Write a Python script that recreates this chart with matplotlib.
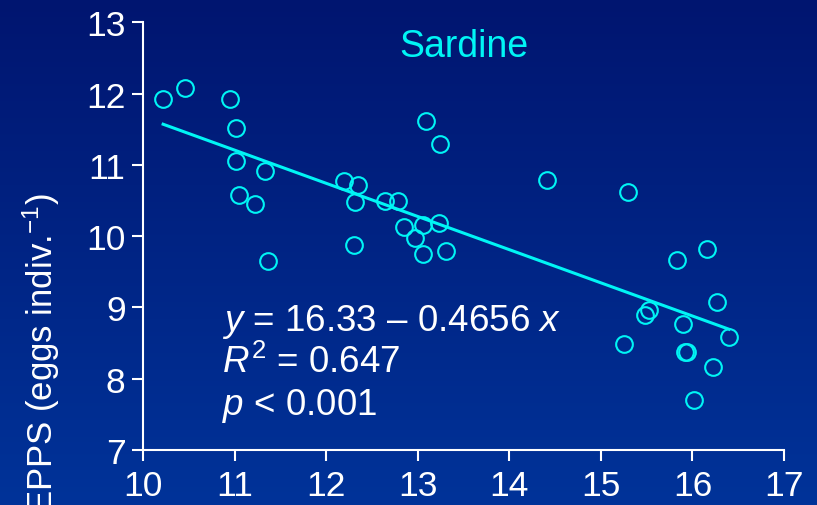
import numpy as np
import matplotlib
matplotlib.use('Agg')
import matplotlib.pyplot as plt
from matplotlib.colors import LinearSegmentedColormap

plt.rcParams['font.family'] = ['Liberation Sans', 'DejaVu Sans']
plt.rcParams['mathtext.fontset'] = 'custom'
plt.rcParams['mathtext.rm'] = 'Liberation Sans'
plt.rcParams['mathtext.it'] = 'Liberation Sans:italic'

# données (x = température ?, y = EPPS)
temp = [10.22, 10.46, 10.95, 11.02, 11.02, 11.33, 11.05, 11.22, 11.37,
        12.20, 12.35, 12.31, 12.30, 12.64, 12.79, 13.09, 13.24, 12.85,
        12.97, 13.06, 13.23, 13.06, 13.31,
        14.41, 15.30, 15.83, 16.16, 16.27, 15.53, 15.48, 15.90, 16.40,
        15.25, 15.92, 15.94, 16.23, 16.02]
epps = [11.93, 12.08, 11.92, 11.52, 11.06, 10.92, 10.58, 10.45, 9.65,
        10.78, 10.72, 10.48, 9.88, 10.50, 10.50, 11.62, 11.30, 10.13,
        9.98, 10.16, 10.18, 9.75, 9.79,
        10.79, 10.62, 9.66, 9.82, 9.07, 8.97, 8.90, 8.77, 8.58,
        8.49, 8.37, 8.37, 8.16, 7.70]
intercept = 16.33
slope = -0.4656

cyan = '#00f5f5'

fig = plt.figure(figsize=(8.17, 5.06), dpi=100)

# fond dégradé
bg = fig.add_axes([0, 0, 1, 1], zorder=-1)
cmap = LinearSegmentedColormap.from_list('bg', ['#001570', '#003399'])
bg.imshow(np.linspace(0, 1, 256).reshape(-1, 1), cmap=cmap, aspect='auto',
          extent=[0, 1, 0, 1])
bg.axis('off')

ax = fig.add_axes([0.175, 0.1087, 0.7846, 0.845])
ax.set_facecolor('none')

ax.plot(temp, epps, 'o', ms=12, mfc='none', mec=cyan, mew=1.5, clip_on=False)
xl = np.array([min(temp), max(temp)])
ax.plot(xl, intercept + slope * xl, color=cyan, lw=2.2)

ax.set_xlim(10, 17)
ax.set_ylim(7, 13)
ax.set_xticks(range(10, 18))
ax.set_yticks(range(7, 14))

for s in ['top', 'right']:
    ax.spines[s].set_visible(False)
for s in ['left', 'bottom']:
    ax.spines[s].set_color('white')
    ax.spines[s].set_linewidth(1.5)
ax.tick_params(colors='white', labelsize=25.5, length=8, width=1.5)
ax.tick_params(axis='y', pad=4.5)
ax.tick_params(axis='x', pad=6)

ax.text(0.5, 0.922, 'Sardine', transform=ax.transAxes, color=cyan,
        fontsize=27, ha='center', va='baseline')
ax.text(0.123, 0.281, '$y$ = 16.33 \u2013 0.4656 $x$', transform=ax.transAxes,
        color='white', fontsize=26.5, ha='left', va='baseline')
ax.text(0.123, 0.182, '$R^2$ = 0.647', transform=ax.transAxes,
        color='white', fontsize=26.5, ha='left', va='baseline')
ax.text(0.123, 0.085, '$p$ < 0.001', transform=ax.transAxes,
        color='white', fontsize=26.5, ha='left', va='baseline')

fig.text(0.05, 0.618, 'EPPS (eggs indiv.$^{-1}$)', rotation=90, color='white',
         fontsize=25, ha='center', va='top')

fig.savefig('out.png', dpi=100)
